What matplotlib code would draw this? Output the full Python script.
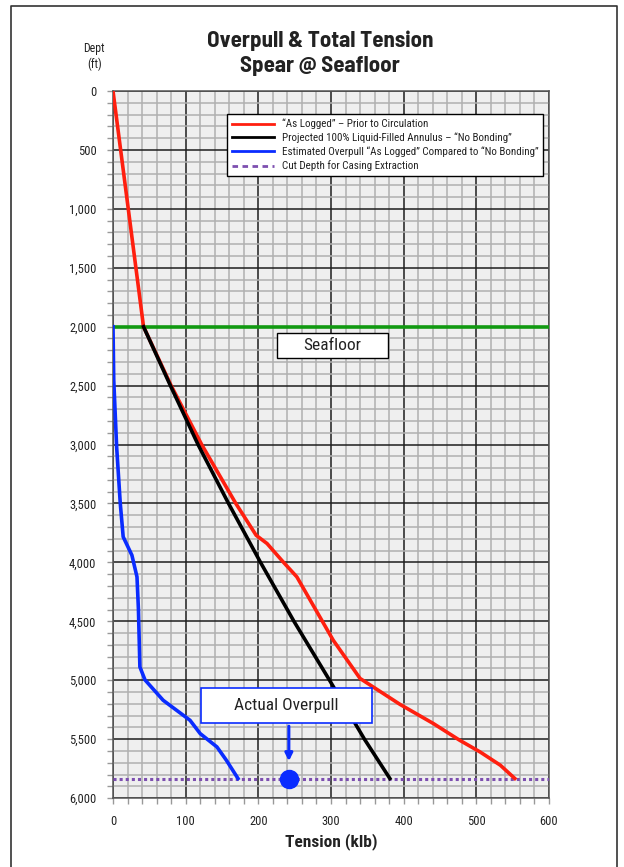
import numpy as np
import matplotlib
matplotlib.use("Agg")
import matplotlib.pyplot as plt
from matplotlib.lines import Line2D
from matplotlib.patches import Rectangle
from matplotlib.ticker import MultipleLocator, FuncFormatter

plt.rcParams['font.family'] = ['Roboto Condensed', 'DejaVu Sans']

# "As Logged" curve (klb vs ft)
red_t = [0, 42, 80, 122, 169, 197, 212, 234, 253, 303, 340, 372, 395, 441, 477, 505, 533, 553]
red_d = [0, 2000, 2500, 3000, 3500, 3770, 3840, 3995, 4123, 4660, 4985, 5113, 5205, 5368, 5509, 5608, 5721, 5834]

# projected 100% liquid-filled annulus, no bonding
black_t = [42, 79, 117, 159, 203, 249, 298, 346, 381]
black_d = [2000, 2500, 3000, 3500, 4000, 4500, 5000, 5500, 5834]

# estimated overpull
blue_t = [0, 1, 5, 10, 14, 26, 33, 35, 37, 44, 69, 106, 120, 143, 156, 172]
blue_d = [2000, 2450, 3020, 3500, 3783, 3939, 4123, 4400, 4887, 4997, 5170, 5340, 5453, 5566, 5679, 5834]

seafloor = 2000
cut_depth = 5834
actual_overpull = 242

labels = ['\u201cAs Logged\u201d \u2013 Prior to Circulation',
          'Projected 100% Liquid-Filled Annulus \u2013 \u201cNo Bonding\u201d',
          'Estimated Overpull \u201cAs Logged\u201d Compared to \u201cNo Bonding\u201d',
          'Cut Depth for Casing Extraction']

red = '#ff1f0f'
blue = '#0a2cff'
green = '#129a12'
purple = '#7d4fb0'
txtc = '#222222'

fig = plt.figure(figsize=(6.24, 8.67), dpi=100)
ax = fig.add_axes([0.1811, 0.0795, 0.6987, 0.8155])
ax.set_facecolor('#efefef')

ax.set_xlim(0, 600)
ax.set_ylim(6000, 0)

ax.xaxis.set_major_locator(MultipleLocator(100))
ax.xaxis.set_minor_locator(MultipleLocator(20))
ax.yaxis.set_major_locator(MultipleLocator(500))
ax.yaxis.set_minor_locator(MultipleLocator(100))
ax.yaxis.set_major_formatter(FuncFormatter(lambda v, p: '{:,.0f}'.format(v)))

ax.grid(which='minor', color='#b0b0b0', lw=1.1, zorder=0)
ax.grid(which='major', color='#1e1e1e', lw=1.1, zorder=0)
ax.set_axisbelow(True)

for s in ax.spines.values():
    s.set_color('#555555')
    s.set_linewidth(1.1)

ax.tick_params(which='both', direction='out', color='#999999', width=1, length=4,
               labelsize=9, labelcolor=txtc)
ax.tick_params(axis='x', which='major', pad=8)
ax.tick_params(axis='y', which='major', pad=8)

l_pur, = ax.plot([0, 600], [cut_depth, cut_depth], color=purple, lw=2.2,
                 ls=(0, (1, 1)), dash_capstyle='butt', zorder=3)
ax.axhline(seafloor, color=green, lw=2.6, zorder=3)
l_red, = ax.plot(red_t, red_d, color=red, lw=2.6, zorder=4)
l_blk, = ax.plot(black_t, black_d, color='black', lw=2.6, zorder=4)
l_blu, = ax.plot(blue_t, blue_d, color=blue, lw=2.6, zorder=4)
ax.plot(actual_overpull, cut_depth, 'o', color=blue, ms=13, zorder=5)

leg_pur = Line2D([], [], color=purple, lw=2, ls=(0, (2, 1.6)))
leg = ax.legend([l_red, l_blk, l_blu, leg_pur], labels, loc='upper right',
                bbox_to_anchor=(0.987, 0.967), fontsize=7.9, handlelength=3.8,
                fancybox=False, framealpha=1, edgecolor='black',
                borderpad=0.4, labelspacing=0.3, handletextpad=0.8, borderaxespad=0)
leg.get_frame().set_linewidth(1)
for h in leg.get_lines():
    h.set_linewidth(2)
for t in leg.get_texts():
    t.set_color(txtc)

# seafloor label
ax.add_patch(Rectangle((226, 2054), 152, 213, facecolor='white', edgecolor='black', lw=1, zorder=6))
ax.text(302, 2160, 'Seafloor', ha='center', va='center', fontsize=12.5, zorder=7, color=txtc)

# actual overpull label
ax.add_patch(Rectangle((121, 5068), 235, 297, facecolor='white', edgecolor=blue, lw=1.2, zorder=6))
ax.text(238.5, 5216, 'Actual Overpull', ha='center', va='center', fontsize=12.5, zorder=7, color=txtc)
ax.annotate('', xy=(actual_overpull, 5710), xytext=(actual_overpull, 5366),
            arrowprops=dict(arrowstyle='-|>', color=blue, lw=2.2, mutation_scale=11), zorder=7)

ax.set_xlabel('Tension (klb)', fontsize=12.5, fontweight='bold', labelpad=4, color=txtc)

title_font = ['Barlow Semi Condensed', 'Roboto Condensed', 'DejaVu Sans']
fig.text(0.513, 0.9527, 'Overpull & Total Tension', ha='center', va='center',
         fontsize=16.5, fontweight='bold', color=txtc, family=title_font)
fig.text(0.513, 0.9239, 'Spear @ Seafloor', ha='center', va='center',
         fontsize=16.5, fontweight='bold', color=txtc, family=title_font)
fig.text(0.151, 0.9345, 'Dept\n(ft)', ha='center', va='center', fontsize=8.5,
         linespacing=1.25, color=txtc)

# frame round the figure
fig.add_artist(Line2D([0.018, 0.018, 0.989, 0.989], [0.0, 0.993, 0.993, 0.0],
                      transform=fig.transFigure, color='#333333', lw=1.2))

fig.savefig('out.png', dpi=100)
